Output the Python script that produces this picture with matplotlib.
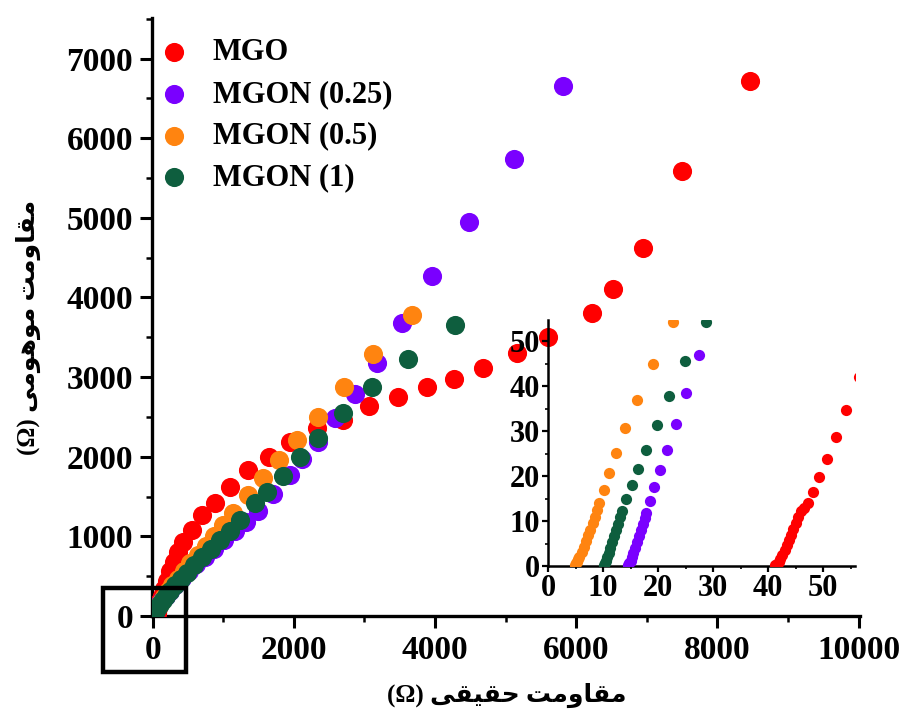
import matplotlib
matplotlib.use("Agg")
import matplotlib.pyplot as plt
from matplotlib.patches import Rectangle
from matplotlib.ticker import MultipleLocator

# ---------------- data (Z' , -Z'') in ohm ----------------
series_names = ["MGO", "MGON (0.25)", "MGON (0.5)", "MGON (1)"]
series_colors = ["#FF0000", "#7A00FF", "#FF8410", "#0E5E3E"]

mgo_x = [41.3, 41.6, 41.9, 42.2, 42.6, 43.0, 43.4, 43.8, 44.2, 44.6, 45.0, 45.5, 46.0,
         46.6, 47.3, 48.1, 49.3, 50.7, 52.3, 54.1, 56.6,
         70, 95, 125, 160, 200, 250, 305, 365, 426, 553, 695, 879, 1092, 1348,
         1645, 1943, 2326, 2695, 3064, 3475, 3887, 4270, 4681, 5163, 5603,
         6227, 6525, 6950, 7504, 8468]
mgo_y = [0.2, 0.5, 1.0, 1.6, 2.5, 3.5, 4.6, 5.8, 7.0, 8.3, 9.6, 10.9, 12.3,
         13.0, 13.9, 16.5, 19.8, 23.8, 28.7, 34.7, 42.0,
         100, 170, 250, 340, 440, 560, 680, 805, 930, 1080, 1269, 1420, 1621, 1834,
         1998, 2186, 2362, 2462, 2638, 2751, 2877, 2977, 3116, 3304, 3505,
         3806, 4108, 4623, 5590, 6721]

m025_x = [14.6, 14.8, 15.0, 15.2, 15.5, 15.8, 16.1, 16.5, 16.9, 17.2, 17.6, 17.9,
          18.5, 19.3, 20.4, 21.7, 23.3, 25.1, 27.5,
          40, 65, 95, 135, 185, 245, 320, 410, 510, 620, 740, 870, 1010, 1160,
          1320, 1490, 1700, 1943, 2113, 2340, 2582, 2865, 3177, 3532, 3957,
          4482, 5121, 5816]
m025_y = [0.2, 0.6, 1.2, 2.0, 3.0, 4.1, 5.3, 6.6, 7.9, 9.3, 10.6, 11.8,
          14.4, 17.5, 21.3, 25.9, 31.6, 38.5, 46.9,
          75, 110, 150, 200, 255, 320, 395, 475, 560, 650, 745, 845, 950, 1065,
          1185, 1320, 1530, 1771, 1972, 2186, 2487, 2789, 3178, 3681, 4271,
          4950, 5741, 6658]

m05_x = [4.9, 5.1, 5.3, 5.5, 5.7, 6.1, 6.5, 6.9, 7.3, 7.7, 8.1, 8.5, 8.9,
         9.3, 10.1, 11.0, 12.4, 14.0, 16.1, 19.0, 22.8,
         35, 55, 80, 115, 160, 215, 280, 355, 440, 535, 640, 750, 870, 1000,
         1140, 1348, 1560, 1787, 2043, 2340, 2709, 3121, 3674]
m05_y = [0.2, 0.6, 1.0, 1.5, 2.0, 3.1, 4.3, 5.5, 6.8, 8.1, 9.5, 10.9, 12.4,
         14.1, 17.0, 20.7, 25.2, 30.6, 37.0, 45.0, 54.3,
         70, 95, 130, 180, 240, 310, 385, 470, 560, 660, 770, 880, 1000, 1140,
         1290, 1520, 1734, 1960, 2211, 2500, 2877, 3291, 3781]

m1_x = [10.1, 10.3, 10.5, 10.7, 11.0, 11.3, 11.7, 12.0, 12.4, 12.7, 13.1, 13.4,
        14.1, 15.2, 16.3, 17.8, 19.9, 22.0, 24.9, 28.7,
        45, 70, 100, 140, 190, 250, 320, 400, 490, 590, 700, 820, 950, 1090,
        1240, 1447, 1617, 1844, 2085, 2340, 2695, 3106, 3617, 4284]
m1_y = [0.2, 0.6, 1.2, 2.0, 3.0, 4.1, 5.3, 6.6, 7.9, 9.3, 10.8, 12.3,
        14.8, 17.9, 21.5, 25.9, 31.3, 37.8, 45.6, 54.3,
        80, 115, 155, 200, 255, 315, 385, 460, 545, 635, 735, 840, 950, 1065,
        1200, 1420, 1558, 1759, 1998, 2236, 2550, 2877, 3229, 3656]

series_x = [mgo_x, m025_x, m05_x, m1_x]
series_y = [mgo_y, m025_y, m05_y, m1_y]

main_xticks = [0, 2000, 4000, 6000, 8000, 10000]
main_yticks = [0, 1000, 2000, 3000, 4000, 5000, 6000, 7000]
inset_ticks = [0, 10, 20, 30, 40, 50]

# zoom box region (data units of the main axes)
box_x0, box_x1 = -709, 468
box_y0, box_y1 = -704, 352


# ---------- Persian labels (pre-shaped presentation forms, visual order) ----------
def visual(*glyph_words):
    # each word given in logical order of presentation-form glyphs
    return " ".join("".join(reversed(w)) for w in reversed(glyph_words))

MUQAVEMAT = ["\uFEE3", "\uFED8", "\uFE8E", "\uFEED", "\uFEE3", "\uFE96"]   # مقاومت
HAGHIGHI = ["\uFEA3", "\uFED8", "\uFEF4", "\uFED8", "\uFEF0"]               # حقیقی
MOHUMI = ["\uFEE3", "\uFEEE", "\uFEEB", "\uFEEE", "\uFEE3", "\uFEF0"]        # موهومی

xlabel_text = "(\u03A9) " + visual(MUQAVEMAT, HAGHIGHI)
ylabel_text = "(\u03A9) " + visual(MUQAVEMAT, MOHUMI)

SERIF = ["Liberation Serif", "DejaVu Serif"]
LABEL_FAM = ["Liberation Serif", "DejaVu Sans"]

W, H = 903, 724
fig = plt.figure(figsize=(W / 100, H / 100), dpi=100)

# ---------------- main axes ----------------
ax = fig.add_axes([152 / W, 1 - 616 / H, (860 - 152) / W, (616 - 18) / H])
for x, y, c, n in zip(series_x, series_y, series_colors, series_names):
    ax.scatter(x, y, s=190, color=c, label=n, linewidths=0, zorder=3)

ax.set_xlim(-10, 10020)
ax.set_ylim(0, 7510)
ax.set_xticks(main_xticks)
ax.set_yticks(main_yticks)
ax.xaxis.set_minor_locator(MultipleLocator(1000))
ax.yaxis.set_minor_locator(MultipleLocator(500))
for s in ["top", "right"]:
    ax.spines[s].set_visible(False)
for s in ["left", "bottom"]:
    ax.spines[s].set_linewidth(2.4)
ax.tick_params(which="major", direction="out", length=8.5, width=2.2, pad=5)
ax.tick_params(which="minor", direction="out", length=4.5, width=1.8)
for lab in ax.get_xticklabels() + ax.get_yticklabels():
    lab.set_fontfamily(SERIF)
    lab.set_fontweight("bold")
    lab.set_fontsize(24)

leg = ax.legend(loc="upper left", bbox_to_anchor=(-0.003, 0.982), frameon=False,
                prop={"family": SERIF, "weight": "bold", "size": 22},
                handletextpad=0.75, labelspacing=0.42, borderaxespad=0.15,
                borderpad=0.15, markerscale=1.0, handlelength=1.0)

ax.add_patch(Rectangle((box_x0, box_y0), box_x1 - box_x0, box_y1 - box_y0,
                       fill=False, edgecolor="black", linewidth=3.2,
                       clip_on=False, zorder=5))

fig.text(507 / W, 1 - 695 / H, xlabel_text, ha="center", va="center",
         family=LABEL_FAM, fontweight="bold", fontsize=18)
fig.text(28 / W, 1 - 327 / H, ylabel_text, ha="center", va="center",
         rotation=90, family=LABEL_FAM, fontweight="bold", fontsize=18)

# ---------------- inset ----------------
axi = fig.add_axes([548 / W, 1 - 566 / H, (855 - 548) / W, (566 - 320) / H])
axi.patch.set_alpha(0)
for x, y, c in zip(series_x, series_y, series_colors):
    axi.scatter(x, y, s=65, color=c, linewidths=0, zorder=3)
axi.set_xlim(0, 55.8)
axi.set_ylim(0, 54.7)
axi.set_xticks(inset_ticks)
axi.set_yticks(inset_ticks)
axi.xaxis.set_minor_locator(MultipleLocator(5))
axi.yaxis.set_minor_locator(MultipleLocator(5))
for s in ["top", "right"]:
    axi.spines[s].set_visible(False)
for s in ["left", "bottom"]:
    axi.spines[s].set_linewidth(1.8)
axi.tick_params(which="major", direction="out", length=4, width=1.6, pad=2)
axi.tick_params(which="minor", direction="out", length=2.5, width=1.2)
for lab in axi.get_xticklabels() + axi.get_yticklabels():
    lab.set_fontfamily(SERIF)
    lab.set_fontweight("bold")
    lab.set_fontsize(22)

fig.savefig("out.png", dpi=100)
